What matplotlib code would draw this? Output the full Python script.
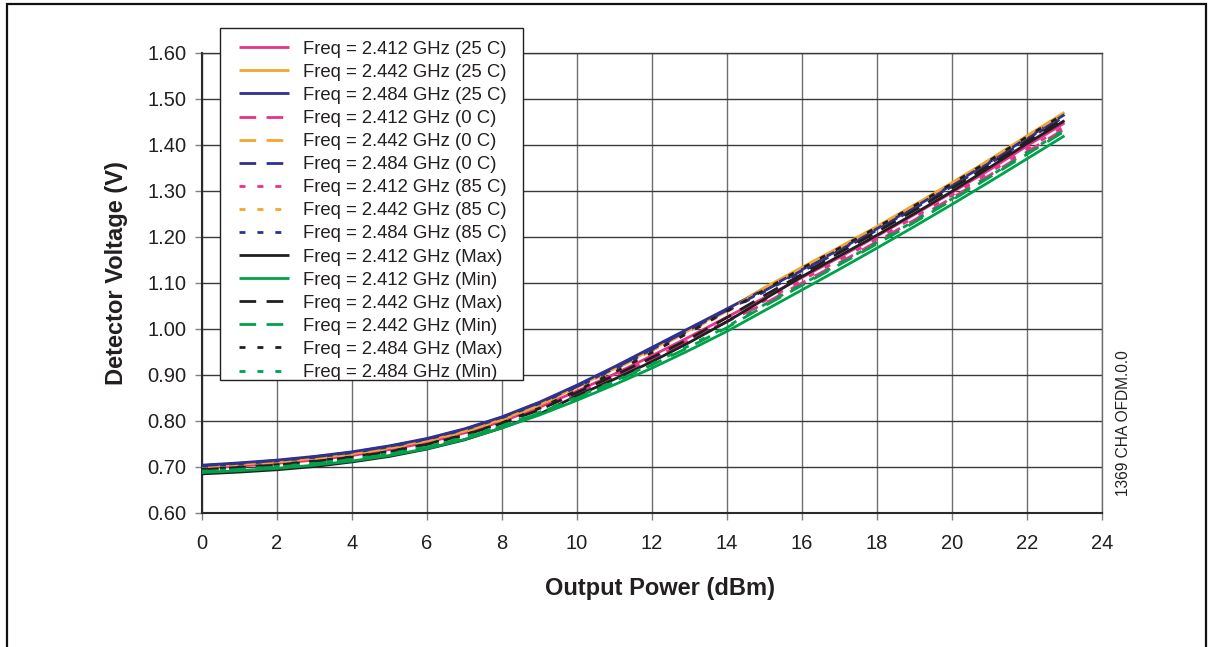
import matplotlib
matplotlib.use('Agg')
import matplotlib.pyplot as plt
from matplotlib.patches import Rectangle

plt.rcParams['font.family'] = ['Liberation Sans', 'DejaVu Sans']
plt.rcParams['lines.scale_dashes'] = False

# ---------------- data ----------------
power_dbm = list(range(0, 24))

v_2412_25C = [0.698, 0.702, 0.708, 0.715, 0.725, 0.738, 0.753, 0.774, 0.799, 0.830, 0.865, 0.902,
              0.942, 0.983, 1.026, 1.068, 1.112, 1.156, 1.202, 1.249, 1.297, 1.346, 1.398, 1.448]
v_2442_25C = [0.701, 0.706, 0.711, 0.719, 0.729, 0.742, 0.758, 0.778, 0.804, 0.835, 0.875, 0.914,
              0.956, 0.998, 1.042, 1.090, 1.134, 1.178, 1.223, 1.270, 1.318, 1.368, 1.420, 1.471]
v_2484_25C = [0.704, 0.709, 0.715, 0.723, 0.733, 0.746, 0.762, 0.783, 0.809, 0.841, 0.878, 0.918,
              0.960, 1.002, 1.044, 1.086, 1.129, 1.173, 1.218, 1.265, 1.313, 1.363, 1.415, 1.466]
v_2412_0C = [0.697, 0.701, 0.707, 0.714, 0.724, 0.737, 0.752, 0.773, 0.798, 0.828, 0.858, 0.895,
             0.933, 0.974, 1.016, 1.055, 1.100, 1.144, 1.190, 1.237, 1.285, 1.334, 1.385, 1.435]
v_2442_0C = [0.700, 0.705, 0.711, 0.718, 0.728, 0.741, 0.757, 0.777, 0.803, 0.834, 0.873, 0.912,
             0.953, 0.996, 1.039, 1.089, 1.133, 1.177, 1.222, 1.269, 1.317, 1.367, 1.419, 1.469]
v_2484_0C = [0.703, 0.708, 0.714, 0.722, 0.732, 0.745, 0.761, 0.782, 0.808, 0.840, 0.875, 0.915,
             0.956, 0.999, 1.041, 1.083, 1.127, 1.171, 1.216, 1.263, 1.311, 1.361, 1.413, 1.463]
v_2412_85C = [0.696, 0.701, 0.706, 0.714, 0.723, 0.736, 0.751, 0.772, 0.797, 0.827, 0.860, 0.897,
              0.935, 0.976, 1.018, 1.061, 1.106, 1.150, 1.196, 1.243, 1.291, 1.340, 1.391, 1.441]
v_2442_85C = [0.699, 0.704, 0.710, 0.717, 0.727, 0.740, 0.755, 0.776, 0.802, 0.833, 0.871, 0.910,
              0.951, 0.993, 1.037, 1.087, 1.131, 1.175, 1.220, 1.267, 1.315, 1.365, 1.417, 1.467]
v_2484_85C = [0.702, 0.707, 0.713, 0.721, 0.731, 0.744, 0.760, 0.781, 0.807, 0.838, 0.874, 0.913,
              0.955, 0.997, 1.039, 1.081, 1.125, 1.169, 1.215, 1.262, 1.310, 1.359, 1.411, 1.462]
v_2412_max = [0.685, 0.689, 0.694, 0.701, 0.711, 0.723, 0.739, 0.759, 0.785, 0.815, 0.855, 0.891,
              0.929, 0.971, 1.016, 1.065, 1.114, 1.159, 1.204, 1.251, 1.299, 1.351, 1.403, 1.453]
v_2412_min = [0.688, 0.692, 0.697, 0.704, 0.713, 0.725, 0.740, 0.760, 0.785, 0.813, 0.845, 0.879,
              0.915, 0.954, 0.995, 1.040, 1.085, 1.130, 1.176, 1.223, 1.271, 1.320, 1.370, 1.420]
v_2442_max = [0.694, 0.699, 0.704, 0.712, 0.721, 0.733, 0.749, 0.769, 0.795, 0.824, 0.862, 0.899,
              0.938, 0.979, 1.025, 1.073, 1.119, 1.166, 1.211, 1.258, 1.306, 1.356, 1.408, 1.458]
v_2442_min = [0.690, 0.695, 0.700, 0.707, 0.716, 0.728, 0.743, 0.763, 0.789, 0.817, 0.850, 0.885,
              0.922, 0.961, 1.003, 1.050, 1.095, 1.140, 1.185, 1.232, 1.280, 1.330, 1.380, 1.430]
v_2484_max = [0.695, 0.700, 0.705, 0.713, 0.722, 0.734, 0.750, 0.770, 0.796, 0.828, 0.866, 0.906,
              0.949, 0.993, 1.039, 1.085, 1.132, 1.176, 1.221, 1.268, 1.316, 1.366, 1.418, 1.468]
v_2484_min = [0.691, 0.695, 0.701, 0.708, 0.717, 0.729, 0.744, 0.765, 0.790, 0.819, 0.852, 0.887,
              0.924, 0.964, 1.005, 1.053, 1.097, 1.142, 1.188, 1.235, 1.283, 1.332, 1.383, 1.433]

series_labels = [
    'Freq = 2.412 GHz (25 C)', 'Freq = 2.442 GHz (25 C)', 'Freq = 2.484 GHz (25 C)',
    'Freq = 2.412 GHz (0 C)', 'Freq = 2.442 GHz (0 C)', 'Freq = 2.484 GHz (0 C)',
    'Freq = 2.412 GHz (85 C)', 'Freq = 2.442 GHz (85 C)', 'Freq = 2.484 GHz (85 C)',
    'Freq = 2.412 GHz (Max)', 'Freq = 2.412 GHz (Min)', 'Freq = 2.442 GHz (Max)',
    'Freq = 2.442 GHz (Min)', 'Freq = 2.484 GHz (Max)', 'Freq = 2.484 GHz (Min)',
]
series_values = [v_2412_25C, v_2442_25C, v_2484_25C, v_2412_0C, v_2442_0C, v_2484_0C,
                 v_2412_85C, v_2442_85C, v_2484_85C, v_2412_max, v_2412_min, v_2442_max,
                 v_2442_min, v_2484_max, v_2484_min]

x_ticks = list(range(0, 25, 2))
y_ticks = [0.60, 0.70, 0.80, 0.90, 1.00, 1.10, 1.20, 1.30, 1.40, 1.50, 1.60]

# ---------------- styles ----------------
PINK, ORANGE, BLUE, BLACK, GREEN = '#E8318A', '#F4A62A', '#2E3192', '#231F20', '#00A14B'
SOLID = (0, ())
DASH = (0, (12, 7.5))
DOT = (0, (4.3, 8.6))
styles = [(PINK, SOLID), (ORANGE, SOLID), (BLUE, SOLID),
          (PINK, DASH), (ORANGE, DASH), (BLUE, DASH),
          (PINK, DOT), (ORANGE, DOT), (BLUE, DOT),
          (BLACK, SOLID), (GREEN, SOLID), (BLACK, DASH),
          (GREEN, DASH), (BLACK, DOT), (GREEN, DOT)]

W, H = 1212, 647
fig = plt.figure(figsize=(W / 100, H / 100), dpi=100)


def fx(px):
    return px / W


def fy(py):
    return 1 - py / H


ax = fig.add_axes([fx(202), fy(513), fx(1102) - fx(202), fy(53) - fy(513)])

for vals, lab, (c, ls) in zip(series_values, series_labels, styles):
    ax.plot(power_dbm, vals, color=c, linestyle=ls, linewidth=2.0,
            dash_capstyle='butt', solid_capstyle='butt', label=lab, zorder=3)

ax.set_xlim(0, 24)
ax.set_ylim(0.6, 1.6)
ax.set_xticks(x_ticks)
ax.set_xticklabels([str(t) for t in x_ticks])
ax.set_yticks(y_ticks)
ax.set_yticklabels(['%.2f' % t for t in y_ticks])

ax.yaxis.grid(True, color='#3a3a3a', linewidth=1.0)
ax.xaxis.grid(True, color='#6e6e6e', linewidth=1.0)
ax.set_axisbelow(True)
for s in ['left', 'bottom']:
    ax.spines[s].set_color('#2a2a2a')
    ax.spines[s].set_linewidth(1.5)
ax.spines['top'].set_color('#3a3a3a')
ax.spines['top'].set_linewidth(1.0)
ax.spines['right'].set_color('#6e6e6e')
ax.spines['right'].set_linewidth(1.0)

ax.tick_params(axis='both', direction='out', length=5, width=1.0, color='#808080',
               labelsize=14.5, labelcolor='#231F20')
ax.tick_params(axis='y', pad=6)
ax.tick_params(axis='x', pad=10)

fig.text(fx(660), fy(589), 'Output Power (dBm)', ha='center', va='center',
         fontsize=17, fontweight='bold', color='#231F20')
fig.text(fx(117), fy(273), 'Detector Voltage (V)', ha='center', va='center',
         rotation=90, fontsize=17, fontweight='bold', color='#231F20')
fig.text(fx(1123), fy(423), '1369 CHA OFDM.0.0', ha='center', va='center',
         rotation=90, fontsize=11.2, color='#231F20')

leg = ax.legend(loc='upper left', bbox_to_anchor=(fx(232), fy(33.3)),
                bbox_transform=fig.transFigure, frameon=False, fontsize=13.3,
                handlelength=2.7, handletextpad=0.74, labelspacing=0.33,
                borderpad=0.4, borderaxespad=0)
for t in leg.get_texts():
    t.set_color('#231F20')
leg.set_zorder(6)

# legend box (drawn inside the axes, under the legend entries)
box = Rectangle((fx(219.5), fy(380)), fx(523) - fx(219.5), fy(27.5) - fy(380),
                transform=fig.transFigure, facecolor='white', edgecolor='#231F20',
                linewidth=1.0, zorder=5, clip_on=False)
ax.add_patch(box)

# outer frame
frame = Rectangle((fx(7), fy(660)), fx(1206) - fx(7), fy(4) - fy(660),
                  transform=fig.transFigure, fill=False, edgecolor='#111111',
                  linewidth=1.6, clip_on=False)
fig.add_artist(frame)

fig.savefig('out.png', dpi=100)
